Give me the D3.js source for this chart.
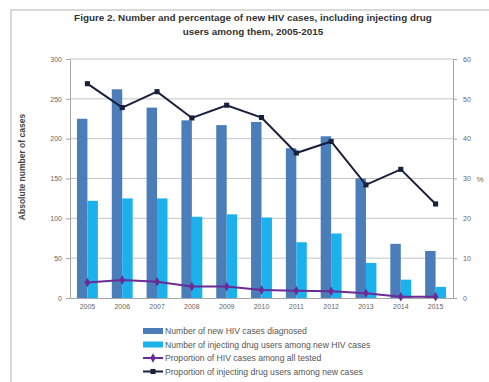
<!DOCTYPE html>
<html>
<head>
<meta charset="utf-8">
<script src="https://cdn.jsdelivr.net/npm/d3@7"></script>
<style>
  html, body { margin: 0; padding: 0; background: #ffffff; }
  svg { display: block; font-family: "Liberation Sans", "DejaVu Sans", sans-serif; }
</style>
</head>
<body>
<svg id="chart" width="489" height="382"></svg>
<script>
// Years and series values
const years = ["2005", "2006", "2007", "2008", "2009", "2010", "2011", "2012", "2013", "2014", "2015"];
const newCases = [225, 262, 239, 223, 217, 221, 188, 203, 150, 68, 59];
const iduCases = [122, 125, 125, 102, 105, 101, 70, 81, 44, 23, 14];
const pctHivAmongTested = [3.9, 4.5, 4.1, 2.9, 2.9, 2.0, 1.8, 1.7, 1.2, 0.3, 0.3];
const pctIduAmongNew = [53.8, 47.8, 51.8, 45.2, 48.4, 45.3, 36.4, 39.3, 28.4, 32.3, 23.6];
const leftTicks = [0, 50, 100, 150, 200, 250, 300];
const rightTicks = [0, 10, 20, 30, 40, 50, 60];

const titleLines = [
  "Figure 2. Number and percentage of new HIV cases, including injecting drug",
  "users among them, 2005-2015"
];
const legendLabels = [
  "Number of new HIV cases diagnosed",
  "Number of injecting drug users among new HIV cases",
  "Proportion of HIV cases among all tested",
  "Proportion of injecting drug users among new cases"
];

const colors = {
  dark: "#4a7dba",
  light: "#1ab1ec",
  purple: "#6b2a96",
  navy: "#1a1f3c",
  grid: "#c4c4c4",
  axisText: "#666666"
};

const svg = d3.select("#chart");
const plot = { left: 70, right: 453, top: 59, bottom: 298 };

// Outer frame
svg.append("path")
  .attr("d", `M11,${382} L11,10 L489,10`)
  .attr("fill", "none")
  .attr("stroke", "#d9d9d9")
  .attr("stroke-width", 2);

// Title
svg.append("g").selectAll("text").data(titleLines).join("text")
  .attr("x", 253)
  .attr("y", (d, i) => 21 + i * 14)
  .attr("text-anchor", "middle")
  .attr("font-size", 9.9)
  .attr("font-weight", "bold")
  .attr("fill", "#333")
  .text(d => d);

// Scales
const x = d3.scaleBand().domain(years).range([plot.left, plot.right]).paddingInner(0.4).paddingOuter(0.2);
const xBand = d3.scaleBand().domain(years).range([plot.left, plot.right]);
const sub = d3.scaleBand().domain(["new", "idu"]).range([0, x.bandwidth()]);
const yL = d3.scaleLinear().domain([0, 300]).range([plot.bottom, plot.top]);
const yR = d3.scaleLinear().domain([0, 60]).range([plot.bottom, plot.top]);

// Gridlines
svg.append("g").selectAll("line").data(leftTicks.filter(t => t > 0)).join("line")
  .attr("x1", plot.left).attr("x2", plot.right)
  .attr("y1", d => yL(d)).attr("y2", d => yL(d))
  .attr("stroke", colors.grid).attr("stroke-width", 1);

// Bars
const groups = svg.append("g").selectAll("g").data(years).join("g")
  .attr("transform", d => `translate(${x(d)},0)`);
groups.append("rect")
  .attr("x", sub("new")).attr("width", sub.bandwidth())
  .attr("y", (d, i) => yL(newCases[i]))
  .attr("height", (d, i) => yL(0) - yL(newCases[i]))
  .attr("fill", colors.dark);
groups.append("rect")
  .attr("x", sub("idu")).attr("width", sub.bandwidth())
  .attr("y", (d, i) => yL(iduCases[i]))
  .attr("height", (d, i) => yL(0) - yL(iduCases[i]))
  .attr("fill", colors.light);

// Axes
const axisStyle = g => {
  g.selectAll("path, line").attr("stroke", "#a6a6a6");
  g.selectAll("text").attr("fill", colors.axisText).attr("font-size", 7);
};
svg.append("g").attr("transform", `translate(${plot.left},0)`)
  .call(d3.axisLeft(yL).tickValues(leftTicks).tickSize(4).tickSizeOuter(0).tickPadding(4))
  .call(axisStyle);
svg.append("g").attr("transform", `translate(${plot.right},0)`)
  .call(d3.axisRight(yR).tickValues(rightTicks).tickSize(4).tickSizeOuter(0).tickPadding(6))
  .call(axisStyle);
const xAxis = svg.append("g").attr("transform", `translate(0,${plot.bottom})`)
  .call(d3.axisBottom(xBand).tickSize(0).tickPadding(6))
  .call(axisStyle);
xAxis.select(".domain").attr("stroke", "#a6a6a6");

// Axis titles
svg.append("text")
  .attr("transform", "translate(25,167) rotate(-90)")
  .attr("text-anchor", "middle")
  .attr("font-size", 8.5)
  .attr("font-weight", "bold")
  .attr("fill", "#444")
  .text("Absolute number of cases");
svg.append("text")
  .attr("x", 480).attr("y", 182)
  .attr("text-anchor", "middle")
  .attr("font-size", 8)
  .attr("fill", colors.axisText)
  .text("%");

// Lines
const cx = d => xBand(d) + xBand.bandwidth() / 2;
const drawLine = (values, color, marker) => {
  const pts = years.map((d, i) => [cx(d), yR(values[i])]);
  svg.append("path")
    .attr("d", d3.line()(pts))
    .attr("fill", "none")
    .attr("stroke", color)
    .attr("stroke-width", 2);
  svg.append("g").selectAll("path").data(pts).join("path")
    .attr("transform", p => `translate(${p[0]},${p[1]})`)
    .attr("d", d3.symbol().type(marker).size(26))
    .attr("fill", color);
};
drawLine(pctHivAmongTested, colors.purple, d3.symbolDiamond);
drawLine(pctIduAmongNew, colors.navy, d3.symbolSquare);

// Legend
const legend = svg.append("g").attr("transform", "translate(143,331)");
const items = legend.selectAll("g").data(legendLabels).join("g")
  .attr("transform", (d, i) => `translate(0,${i * 13.5})`);
items.each(function (d, i) {
  const g = d3.select(this);
  if (i < 2) {
    g.append("rect").attr("x", 0).attr("y", -3).attr("width", 20).attr("height", 6)
      .attr("fill", i === 0 ? colors.dark : colors.light);
  } else {
    const c = i === 2 ? colors.purple : colors.navy;
    g.append("line").attr("x1", 0).attr("x2", 20).attr("y1", 0).attr("y2", 0)
      .attr("stroke", c).attr("stroke-width", 2);
    g.append("path").attr("transform", "translate(10,0)")
      .attr("d", d3.symbol().type(i === 2 ? d3.symbolDiamond : d3.symbolSquare).size(26))
      .attr("fill", c);
  }
  g.append("text").attr("x", 22).attr("y", 3)
    .attr("font-size", 8.6).attr("fill", "#555").text(d);
});
</script>
</body>
</html>
